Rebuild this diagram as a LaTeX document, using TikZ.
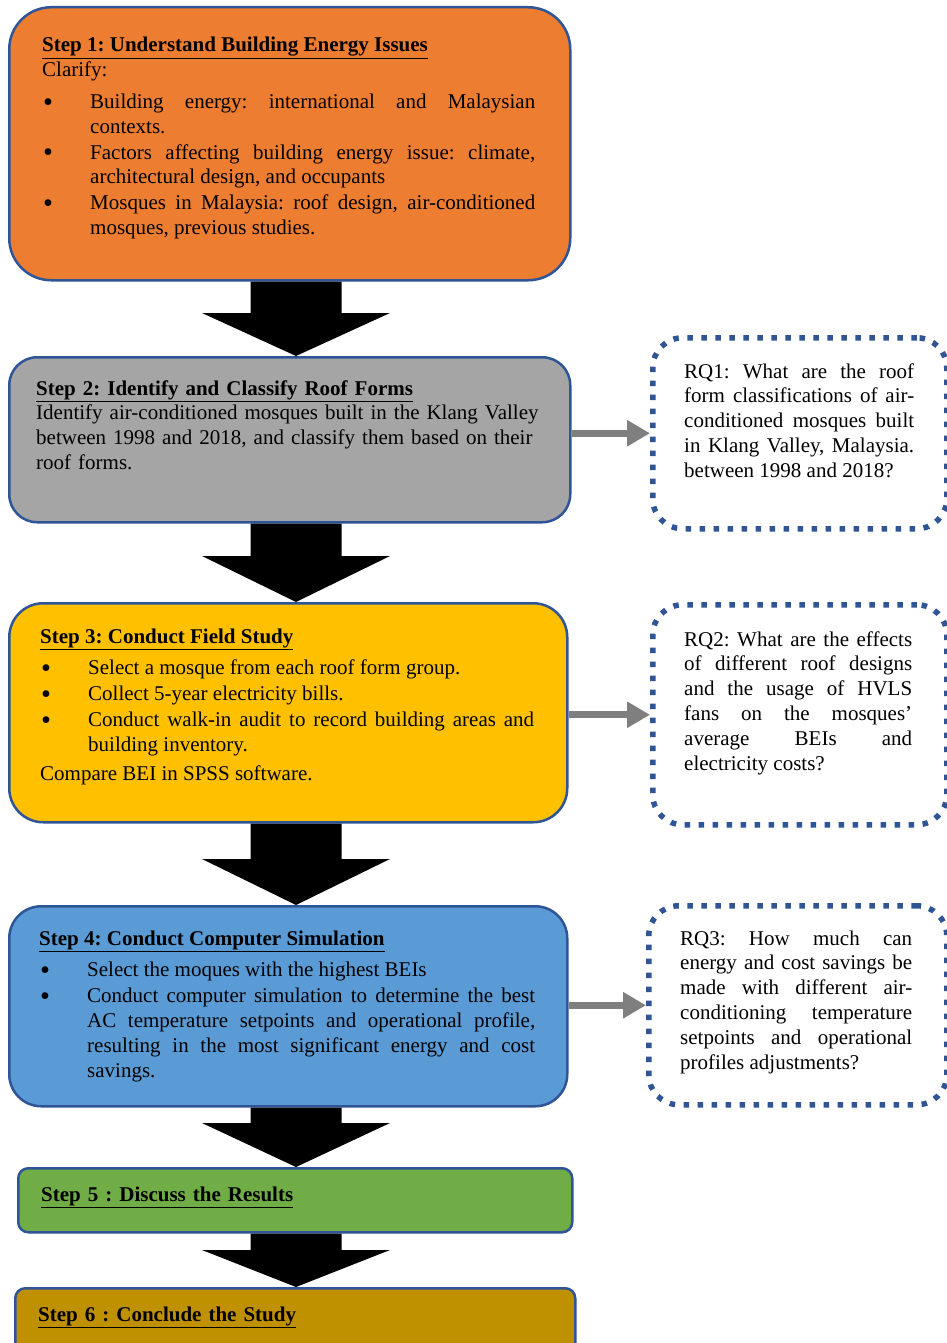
\documentclass[tikz,border=0pt]{standalone}
\usepackage{fontspec}
\setmainfont{Liberation Serif}
\usetikzlibrary{calc,arrows.meta}

\definecolor{boxorange}{HTML}{ED7D31}
\definecolor{boxgray}{HTML}{A5A5A5}
\definecolor{boxyellow}{HTML}{FFC000}
\definecolor{boxblue}{HTML}{5B9BD5}
\definecolor{boxgreen}{HTML}{70AD47}
\definecolor{boxgold}{HTML}{BF9000}
\definecolor{lineblue}{HTML}{2F5597}
\definecolor{arrowgray}{HTML}{7F7F7F}

\newcommand{\fs}{\fontsize{21}{24.8}\selectfont\frenchspacing}
\newcommand{\bitem}{\par\vspace{1pt}\hangindent=48pt\hangafter=1\noindent\makebox[48pt][l]{\hspace{1pt}\raisebox{-2.8pt}[0pt][0pt]{\scalebox{1.35}{\textbullet}}}}
\newcommand{\steptitle}[1]{\noindent\strut\underline{\textbf{#1}}}
\newcommand{\blockdown}[3]{%
  \fill[black] ($(#1.south -| axis)+(-45.5,0)$) -- ($(#1.south -| axis)+(45.5,0)$)
    -- ($(#2.north -| axis)+(45.5,-#3)$) -- ($(#2.north -| axis)+(94,-#3)$)
    -- (#2.north -| axis) -- ($(#2.north -| axis)+(-94,-#3)$)
    -- ($(#2.north -| axis)+(-45.5,-#3)$) -- cycle;}

\begin{document}
\begin{tikzpicture}[x=1pt,y=-1pt,
  stepbox/.style={draw=lineblue, line width=2.5pt, anchor=north west, inner sep=0pt},
  rqbox/.style={draw=lineblue, line width=5.5pt, dash pattern=on 5.5pt off 8.5pt, rounded corners=30pt, anchor=north west, inner sep=0pt},
  txt/.style={anchor=north west, inner sep=0pt, font=\fs, align=justify},
  link/.style={draw=arrowgray, line width=7pt, -{Triangle[length=23pt,width=25pt]}}]
\useasboundingbox[fill=white] (0,0) rectangle (946,1343);
\coordinate (axis) at (296,0);

\node[stepbox, fill=boxorange, rounded corners=42pt, minimum width=561pt, minimum height=273pt] (s1) at (8,6) {};
\node[stepbox, fill=boxgray, rounded corners=28pt, minimum width=561pt, minimum height=165pt] (s2) at (8,356) {};
\node[stepbox, fill=boxyellow, rounded corners=34pt, minimum width=558pt, minimum height=219pt] (s3) at (8,602) {};
\node[stepbox, fill=boxblue, rounded corners=32pt, minimum width=558pt, minimum height=200pt] (s4) at (8,905) {};
\node[stepbox, fill=boxgreen, rounded corners=10pt, minimum width=554pt, minimum height=64pt] (s5) at (17,1167) {};
\node[stepbox, fill=boxgold, rounded corners=10pt, minimum width=560pt, minimum height=90pt] (s6) at (14,1287) {};

\node[rqbox, minimum width=294pt, minimum height=191pt] (rq1) at (650,335) {};
\node[rqbox, minimum width=294pt, minimum height=220pt] (rq2) at (650,602) {};
\node[rqbox, minimum width=298pt, minimum height=199pt] (rq3) at (646,903) {};

\node[txt, text width=493pt] (t1) at (42,34.3) {\steptitle{Step 1: Understand Building Energy Issues}\par
Clarify:\par\vspace{6pt}
\bitem Building energy: international and Malaysian\linebreak contexts.
\bitem Factors affecting building energy issue: climate,\linebreak architectural design, and occupants
\bitem Mosques in Malaysia: roof design, air-conditioned\linebreak mosques, previous studies.\par};

\node[txt, text width=505pt, align=left] (t2) at (36,377.6) {\steptitle{Step 2: Identify and Classify Roof Forms}\par
Identify air-conditioned mosques built in the Klang Valley\linebreak between 1998 and 2018, and classify them based on their\linebreak roof forms.\par};

\node[txt, text width=494pt] (t3) at (40,625.6) {\steptitle{Step 3: Conduct Field Study}\par\vspace{6pt}
\bitem Select a mosque from each roof form group.
\bitem Collect 5-year electricity bills.
\bitem Conduct walk-in audit to record building areas and\linebreak building inventory.
\par\vspace{4pt}\noindent Compare BEI in SPSS software.\par};

\node[txt, text width=496pt] (t4) at (39,927.6) {\steptitle{Step 4: Conduct Computer Simulation}\par\vspace{6pt}
\bitem Select the moques with the highest BEIs
\bitem Conduct computer simulation to determine the best\linebreak AC temperature setpoints and operational profile,\linebreak resulting in the most significant energy and cost\linebreak savings.\par};

\node[txt, text width=500pt, align=left] (t5) at (41,1183.6) {\steptitle{Step 5 : Discuss the Results}\par};
\node[txt, text width=500pt, align=left] (t6) at (38,1303.6) {\steptitle{Step 6 : Conclude the Study}\par};

\node[txt, text width=230pt] (q1) at (684,360.6) {\noindent\strut RQ1: What are the roof\linebreak form classifications of air-\linebreak conditioned mosques built\linebreak in Klang Valley, Malaysia.\linebreak between 1998 and 2018?\par};
\node[txt, text width=228pt] (q2) at (684,628.6) {\noindent\strut RQ2: What are the effects\linebreak of different roof designs\linebreak and the usage of HVLS\linebreak fans on the mosques'\linebreak average BEIs and\linebreak electricity costs?\par};
\node[txt, text width=232pt] (q3) at (680,927.6) {\noindent\strut RQ3: How much can\linebreak energy and cost savings be\linebreak made with different air-\linebreak conditioning temperature\linebreak setpoints and operational\linebreak profiles adjustments?\par};

\blockdown{s1}{s2}{43}
\blockdown{s2}{s3}{46}
\blockdown{s3}{s4}{46}
\blockdown{s4}{s5}{44}
\blockdown{s5}{s6}{37}

\draw[link] (s2.east |- rq1.west) -- (rq1.west);
\draw[link] (s3.east |- rq2.west) -- (rq2.west);
\draw[link] (s4.east |- rq3.west) -- (rq3.west);
\end{tikzpicture}
\end{document}
